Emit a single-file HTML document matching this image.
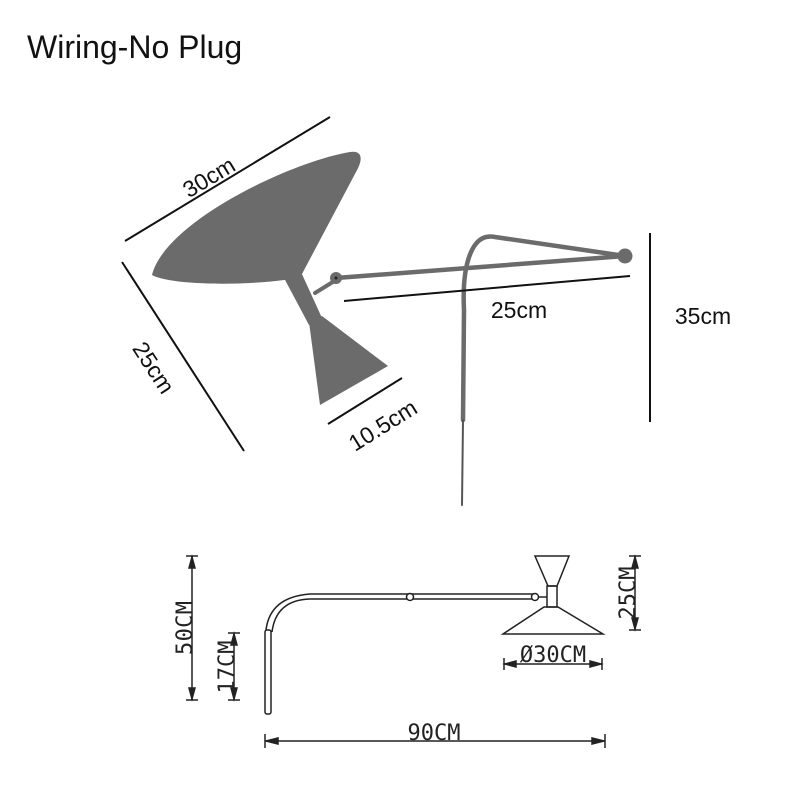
<!DOCTYPE html>
<html><head><meta charset="utf-8"><style>
html,body{margin:0;padding:0;background:#fff;}
svg{display:block;}
.t{font-family:"Liberation Sans",sans-serif;fill:#111;}
.m{font-family:"DejaVu Sans Mono","Liberation Mono",monospace;fill:#222;}
</style></head><body>
<svg width="800" height="800" viewBox="0 0 800 800" xmlns="http://www.w3.org/2000/svg">
<rect width="800" height="800" fill="#fff"/>
<text x="27" y="58" class="t" font-size="32">Wiring-No Plug</text>

<g fill="#6b6b6b" stroke="none">
<path d="M152,275 C165,222 290,162 350,152 C363,150 363,160 356,172 L302,274 C296,278 290,280 284,280 C240,286 170,285 152,275 Z"/>
<path d="M284,278 L301,272 L322,318 L309,325 Z"/>
<path d="M309,322 L322,316 L388,366 L320,405 Z"/>
<circle cx="336" cy="278" r="6"/>
<circle cx="625" cy="256" r="7.5"/>
</g>
<g stroke="#6b6b6b" fill="none" stroke-linecap="round">
<line x1="315" y1="293" x2="336" y2="280" stroke-width="4"/>
<line x1="336" y1="278" x2="625" y2="256" stroke-width="4.5"/>
<path d="M625,256 L495,237 Q480,234 472,250 Q462,270 464,310 L463,420" stroke-width="4.5"/>
<line x1="463" y1="420" x2="462" y2="505" stroke-width="2" stroke="#555"/>
</g>
<circle cx="336" cy="278" r="1.5" fill="#222"/>

<g stroke="#111" stroke-width="2">
<line x1="125" y1="241" x2="330" y2="117"/>
<line x1="122" y1="262" x2="244" y2="451"/>
<line x1="328" y1="424" x2="402" y2="378"/>
<line x1="344" y1="301" x2="630" y2="276"/>
<line x1="650" y1="233" x2="650" y2="422"/>
</g>
<text class="t" font-size="23" transform="translate(213,184) rotate(-31)" text-anchor="middle">30cm</text>
<text class="t" font-size="23" transform="translate(147,372) rotate(57)" text-anchor="middle">25cm</text>
<text class="t" font-size="23" transform="translate(387,432) rotate(-32)" text-anchor="middle">10.5cm</text>
<text class="t" font-size="23" x="519" y="318" text-anchor="middle">25cm</text>
<text class="t" font-size="23" x="703" y="324" text-anchor="middle">35cm</text>

<g stroke="#222" fill="none" stroke-width="1.5">
<rect x="265" y="630" width="6" height="84" rx="2"/>
<path d="M266,630 Q270,597 310,594 L535,594"/>
<path d="M272,632 Q276,600 310,599 L535,599"/>
<circle cx="410" cy="597" r="3.5" fill="#fff"/>
<circle cx="535" cy="597" r="3.5" fill="#fff"/>
<line x1="539" y1="597" x2="547" y2="597"/>
<path d="M535,556 L569,556 L557,586 L548,586 Z"/>
<rect x="547" y="586" width="10" height="21"/>
<path d="M544,607 L558,607 L603,634 L503,634 Z"/>
</g>
<g stroke="#222" stroke-width="1.5" fill="#222">
<line x1="192" y1="556" x2="192" y2="700"/>
<line x1="186" y1="556" x2="198" y2="556"/><line x1="186" y1="700" x2="198" y2="700"/>
<path d="M192,557 L189,568 L195,568 Z"/><path d="M192,699 L189,688 L195,688 Z"/>
<line x1="234" y1="633" x2="234" y2="700"/>
<line x1="228" y1="633" x2="240" y2="633"/><line x1="228" y1="700" x2="240" y2="700"/>
<path d="M234,634 L231,645 L237,645 Z"/><path d="M234,699 L231,688 L237,688 Z"/>
<line x1="504" y1="664" x2="602" y2="664"/>
<line x1="504" y1="658" x2="504" y2="670"/><line x1="602" y1="658" x2="602" y2="670"/>
<path d="M505,664 L516,661 L516,667 Z"/><path d="M601,664 L590,661 L590,667 Z"/>
<line x1="635" y1="556" x2="635" y2="630"/>
<line x1="629" y1="556" x2="641" y2="556"/><line x1="629" y1="630" x2="641" y2="630"/>
<path d="M635,557 L632,568 L638,568 Z"/><path d="M635,629 L632,618 L638,618 Z"/>
<line x1="265" y1="741" x2="605" y2="741"/>
<line x1="265" y1="734" x2="265" y2="748"/><line x1="605" y1="734" x2="605" y2="748"/>
<path d="M266,741 L278,738 L278,744 Z"/><path d="M604,741 L592,738 L592,744 Z"/>
</g>
<text class="m" font-size="22" transform="translate(192,628) rotate(-90)" text-anchor="middle" textLength="54">50CM</text>
<text class="m" font-size="22" transform="translate(234,667) rotate(-90)" text-anchor="middle">17CM</text>
<text class="m" font-size="22" transform="translate(635,593) rotate(-90)" text-anchor="middle">25CM</text>
<text class="m" font-size="22" x="553" y="662" text-anchor="middle">Ø30CM</text>
<text class="m" font-size="22" x="434" y="740" text-anchor="middle">90CM</text>
</svg>
</body></html>
